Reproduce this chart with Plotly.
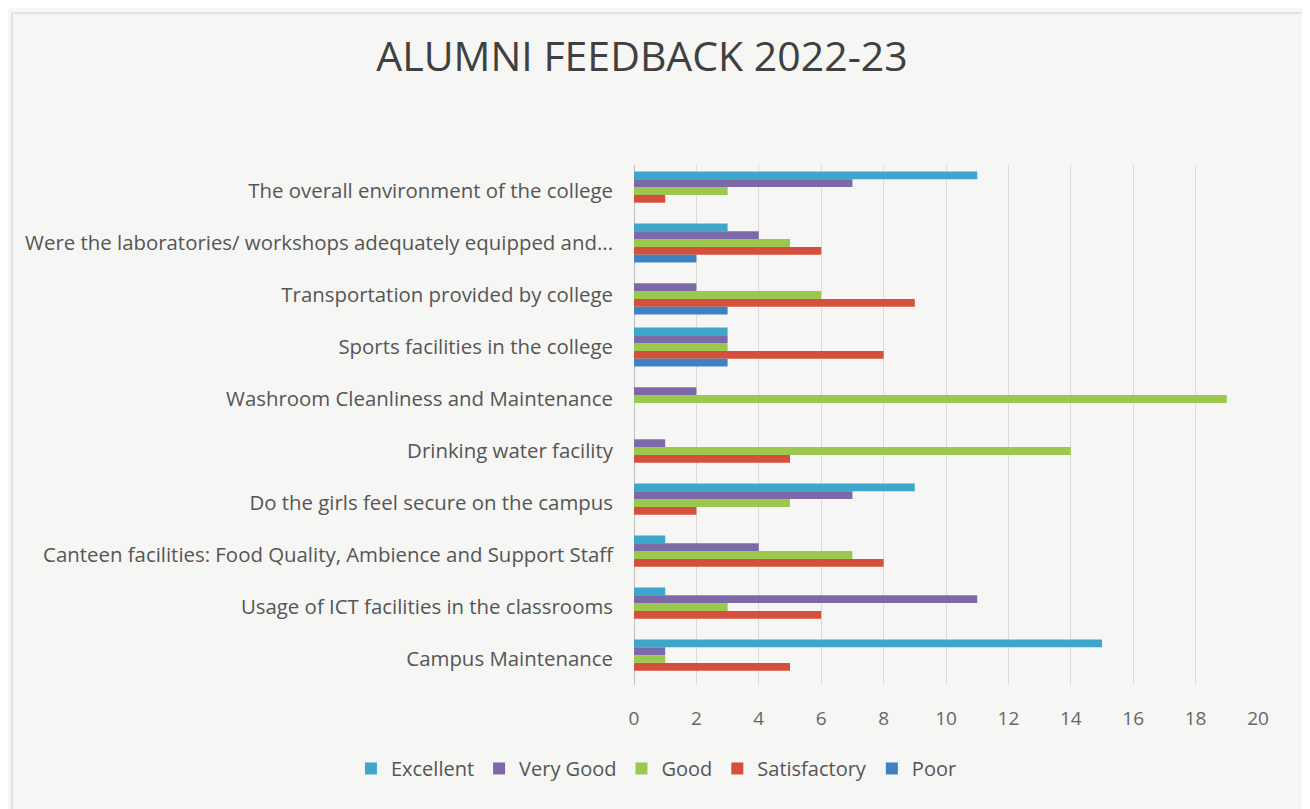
import plotly.graph_objects as go

categories = [
    "The overall environment of the college",
    "Were the laboratories/ workshops adequately equipped and...",
    "Transportation provided by college",
    "Sports facilities in the college",
    "Washroom Cleanliness and Maintenance",
    "Drinking water facility",
    "Do the girls feel secure on the campus",
    "Canteen facilities: Food Quality, Ambience and Support Staff",
    "Usage of ICT facilities in the classrooms",
    "Campus Maintenance",
]

excellent = [11, 3, 0, 3, 0, 0, 9, 1, 1, 15]
very_good = [7, 4, 2, 3, 2, 1, 7, 4, 11, 1]
good = [3, 5, 6, 3, 19, 14, 5, 7, 3, 1]
satisfactory = [1, 6, 9, 8, 0, 5, 2, 8, 6, 5]
poor = [0, 2, 3, 3, 0, 0, 0, 0, 0, 0]

series = [
    ("Excellent", excellent, "#3ea7c9"),
    ("Very Good", very_good, "#7d69a8"),
    ("Good", good, "#9cc850"),
    ("Satisfactory", satisfactory, "#d4503d"),
    ("Poor", poor, "#3f82c3"),
]

fig = go.Figure()
for name, vals, color in series:
    fig.add_trace(go.Bar(
        y=categories, x=vals, name=name, orientation="h",
        marker=dict(color=color, line=dict(width=0)),
    ))

font_family = "Open Sans, Noto Sans, sans-serif"

fig.update_layout(
    width=1310, height=809,
    barmode="group", bargap=0.25, bargroupgap=0,
    paper_bgcolor="#f6f6f4", plot_bgcolor="#f6f6f4",
    margin=dict(l=626, r=60, t=157, b=132),
    font=dict(family=font_family, color="#555555", size=20),
    title=dict(text="ALUMNI FEEDBACK 2022-23", x=0.484, xanchor="center",
               y=0.94, yanchor="middle",
               font=dict(size=41, color="#404040", family=font_family)),
    xaxis=dict(range=[0, 20], dtick=2, showgrid=True, gridcolor="#dadada",
               zeroline=True, zerolinecolor="#bfbfbf", zerolinewidth=1,
               tickfont=dict(size=19, color="#666666"), ticklabelstandoff=20),
    yaxis=dict(autorange="reversed", showgrid=False, ticklabelstandoff=20,
               tickfont=dict(size=20.4, color="#555555")),
    legend=dict(orientation="h", x=0.495, xanchor="center", xref="container",
                y=0.06, yref="container", yanchor="middle",
                font=dict(size=20, color="#555555"), itemwidth=30),
    showlegend=True,
)

fig.add_shape(type="rect", xref="paper", yref="paper",
              x0=-622 / 624, x1=1 + 56 / 624, y0=-128 / 520, y1=1 + 152 / 520,
              line=dict(color="#d0d0d0", width=1))

fig.write_html("out.html")
